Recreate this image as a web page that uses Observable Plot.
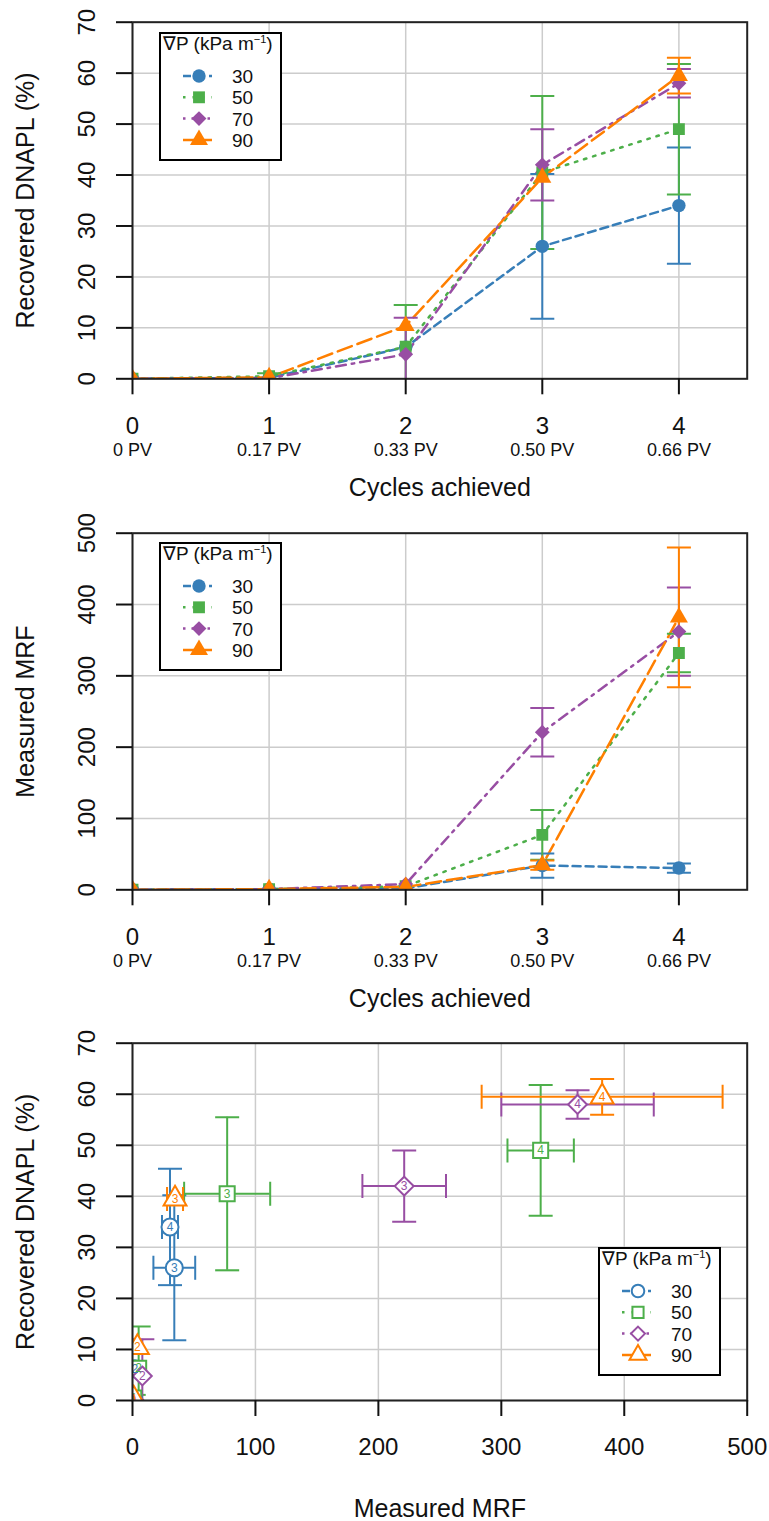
<!DOCTYPE html>
<html><head><meta charset="utf-8">
<script src="https://cdn.jsdelivr.net/npm/d3@7"></script>
<script src="https://cdn.jsdelivr.net/npm/@observablehq/plot@0.6"></script>
<style>
body{margin:0;background:#fff;}
#chart{width:769px;position:relative;font-family:"Liberation Sans",Arial,Helvetica,sans-serif;}
.panel{position:relative;width:769px;}
.panel svg{display:block;}
</style></head><body><div id="chart"></div>
<script>
// ---- data ----
const cycles = [0, 1, 2, 3, 4];
const pvLabels = ["0 PV", "0.17 PV", "0.33 PV", "0.50 PV", "0.66 PV"];
const gradients = [30, 50, 70, 90];
const colors = ["#377EB8", "#4DAF4A", "#984EA3", "#FF7F00"];

// Recovered DNAPL (%) per cycle, mean and error
const dnapl30 = [0, 0.2, 6.2, 26, 34];
const dnapl30Err = [0, 0, 0, 14.2, 11.4];
const dnapl50 = [0, 0.5, 6.3, 40.5, 49];
const dnapl50Err = [0, 0.6, 8.2, 15, 12.8];
const dnapl70 = [0, 0.1, 4.8, 42, 58];
const dnapl70Err = [0, 0, 7.2, 7, 2.8];
const dnapl90 = [0, 0.3, 10.4, 39.5, 59.5];
const dnapl90Err = [0, 0, 0, 0, 3.5];

// Measured MRF per cycle, mean and error
const mrf30 = [0, 1, 2, 34, 30.5];
const mrf30Err = [0, 0, 0, 17, 6.5];
const mrf50 = [0, 1, 5, 77, 332];
const mrf50Err = [0, 0, 0, 35, 27];
const mrf70 = [0, 1, 8, 221, 362];
const mrf70Err = [0, 0, 0, 34, 62];
const mrf90 = [0, 1, 4, 34.6, 382];
const mrf90Err = [0, 0, 0, 6.5, 98];

const dnaplTicks = [0, 10, 20, 30, 40, 50, 60, 70];
const mrfTicks = [0, 100, 200, 300, 400, 500];

// ---- build table ----
const dashes = ["8,5", "2.5,7", "2.5,6,10,6", "15,6"];
const symbols = ["circle", "square", "diamond2", "triangle"];
const seriesDefs = [
  {g: gradients[0], color: colors[0], dash: dashes[0], symbol: symbols[0], dnapl: dnapl30, dnaplErr: dnapl30Err, mrf: mrf30, mrfErr: mrf30Err},
  {g: gradients[1], color: colors[1], dash: dashes[1], symbol: symbols[1], dnapl: dnapl50, dnaplErr: dnapl50Err, mrf: mrf50, mrfErr: mrf50Err},
  {g: gradients[2], color: colors[2], dash: dashes[2], symbol: symbols[2], dnapl: dnapl70, dnaplErr: dnapl70Err, mrf: mrf70, mrfErr: mrf70Err},
  {g: gradients[3], color: colors[3], dash: dashes[3], symbol: symbols[3], dnapl: dnapl90, dnaplErr: dnapl90Err, mrf: mrf90, mrfErr: mrf90Err}
];
const rows = seriesDefs.flatMap(s => cycles.map((c, i) => ({
  g: s.g, cycle: c,
  dnapl: s.dnapl[i], dnaplErr: s.dnaplErr[i], dnaplLo: s.dnapl[i] - s.dnaplErr[i], dnaplHi: s.dnapl[i] + s.dnaplErr[i],
  mrf: s.mrf[i], mrfErr: s.mrfErr[i], mrfLo: s.mrf[i] - s.mrfErr[i], mrfHi: s.mrf[i] + s.mrfErr[i]
})));
const of = g => rows.filter(r => r.g === g);

const hcap = {draw(ctx) { ctx.moveTo(-12, 0); ctx.lineTo(12, 0); }};
const vcap = {draw(ctx) { ctx.moveTo(0, -12); ctx.lineTo(0, 12); }};
const FONT = '"Liberation Sans", Arial, Helvetica, sans-serif';
const grid = {stroke: "#cccccc", strokeOpacity: 1, strokeWidth: 1.5};

function axesMarks(xTicks, yTicks, xLabelsDy, xLabel, xLabelDy, yLabel, withPV) {
  const m = [
    Plot.frame({stroke: "#222", strokeWidth: 2}),
    Plot.axisX({ticks: xTicks, tickSize: 16, tickFormat: () => "", stroke: "#111", strokeWidth: 2, label: null}),
    Plot.axisY({ticks: yTicks, tickSize: 16, tickFormat: () => "", stroke: "#111", strokeWidth: 2, label: null}),
    Plot.text(xTicks, {x: d => d, text: d => String(d), frameAnchor: "bottom", dy: xLabelsDy, fontSize: 24, lineAnchor: "middle", fill: "#111"}),
    Plot.text(yTicks, {y: d => d, text: d => String(d), frameAnchor: "left", dx: -45, rotate: -90, fontSize: 24, textAnchor: "middle", lineAnchor: "middle", fill: "#111"}),
    Plot.text([xLabel], {text: d => d, frameAnchor: "bottom", dy: xLabelDy, fontSize: 25, lineAnchor: "middle", fill: "#111"}),
    Plot.text([yLabel], {text: d => d, frameAnchor: "left", dx: -107, rotate: -90, fontSize: 25, textAnchor: "middle", lineAnchor: "middle", fill: "#111"})
  ];
  if (withPV) m.push(Plot.text(cycles, {x: d => d, text: (d, i) => pvLabels[i], frameAnchor: "bottom", dy: xLabelsDy + 23, fontSize: 18, lineAnchor: "middle", fill: "#111"}));
  return m;
}

function cyclePanel(key, yDomain, yTicks, yLabel, mt, mb, h) {
  const marks = [Plot.gridX({ticks: cycles, ...grid}), Plot.gridY({ticks: yTicks, ...grid})];
  for (const s of seriesDefs)
    marks.push(Plot.line(of(s.g), {x: "cycle", y: key, stroke: s.color, strokeWidth: 2.5, strokeDasharray: s.dash, clip: true}));
  for (const s of seriesDefs) {
    const d = of(s.g).filter(r => r[key + "Err"] > 0);
    marks.push(Plot.ruleX(d, {x: "cycle", y1: key + "Lo", y2: key + "Hi", stroke: s.color, strokeWidth: 2, clip: true}));
    marks.push(Plot.dot(d, {x: "cycle", y: key + "Lo", symbol: hcap, stroke: s.color, fill: "none", strokeWidth: 2, clip: true}));
    marks.push(Plot.dot(d, {x: "cycle", y: key + "Hi", symbol: hcap, stroke: s.color, fill: "none", strokeWidth: 2, clip: true}));
  }
  for (const s of seriesDefs)
    marks.push(Plot.dot(of(s.g), {x: "cycle", y: key, symbol: s.symbol, fill: s.color, stroke: "none", r: 6.7, clip: true}));
  marks.push(...axesMarks(cycles, yTicks, 48, "Cycles achieved", 109, yLabel, true));
  return Plot.plot({
    width: 769, height: h, marginTop: mt, marginBottom: mb, marginLeft: 132, marginRight: 22.3,
    x: {domain: [0, 4.5]}, y: {domain: yDomain},
    style: {fontFamily: FONT, background: "white", overflow: "visible"},
    marks
  });
}

function scatterPanel() {
  const marks = [Plot.gridX({ticks: mrfTicks, ...grid}), Plot.gridY({ticks: dnaplTicks, ...grid})];
  for (const s of seriesDefs) {
    const dy = of(s.g).filter(r => r.dnaplErr > 0);
    const dx = of(s.g).filter(r => r.mrfErr > 0);
    marks.push(Plot.ruleX(dy, {x: "mrf", y1: "dnaplLo", y2: "dnaplHi", stroke: s.color, strokeWidth: 2, clip: true}));
    marks.push(Plot.dot(dy, {x: "mrf", y: "dnaplLo", symbol: hcap, stroke: s.color, fill: "none", strokeWidth: 2, clip: true}));
    marks.push(Plot.dot(dy, {x: "mrf", y: "dnaplHi", symbol: hcap, stroke: s.color, fill: "none", strokeWidth: 2, clip: true}));
    marks.push(Plot.ruleY(dx, {y: "dnapl", x1: "mrfLo", x2: "mrfHi", stroke: s.color, strokeWidth: 2, clip: true}));
    marks.push(Plot.dot(dx, {y: "dnapl", x: "mrfLo", symbol: vcap, stroke: s.color, fill: "none", strokeWidth: 2, clip: true}));
    marks.push(Plot.dot(dx, {y: "dnapl", x: "mrfHi", symbol: vcap, stroke: s.color, fill: "none", strokeWidth: 2, clip: true}));
  }
  for (const s of seriesDefs)
    marks.push(Plot.dot(of(s.g), {x: "mrf", y: "dnapl", symbol: s.symbol, fill: "white", stroke: s.color, strokeWidth: 2, r: 8.5, clip: true}));
  for (const s of seriesDefs)
    marks.push(Plot.text(of(s.g), {x: "mrf", y: "dnapl", text: d => String(d.cycle), fill: s.color, fontSize: 12, clip: true}));
  marks.push(...axesMarks(mrfTicks, dnaplTicks, 47, "Measured MRF", 108, "Recovered DNAPL (%)", false));
  return Plot.plot({
    width: 769, height: 501, marginTop: 22.7, marginBottom: 121, marginLeft: 132, marginRight: 22.3,
    x: {domain: [0, 500]}, y: {domain: [0, 70]},
    style: {fontFamily: FONT, background: "white", overflow: "visible"},
    marks
  });
}

const symTypes = {circle: d3.symbolCircle, square: d3.symbolSquare, diamond2: d3.symbolDiamond2, triangle: d3.symbolTriangle};
function legend(open, left, top) {
  const svg = d3.create("svg").attr("width", 123).attr("height", 129)
    .style("position", "absolute").style("left", left + "px").style("top", top + "px")
    .style("font-family", FONT);
  svg.append("rect").attr("x", 1).attr("y", 1).attr("width", 121).attr("height", 127)
    .attr("fill", "white").attr("stroke", "black").attr("stroke-width", 2);
  const t = svg.append("text").attr("x", 4).attr("y", 18).attr("font-size", 19).attr("fill", "#111");
  t.append("tspan").text("∇P (kPa m");
  t.append("tspan").attr("dy", -7).attr("font-size", 11).text("−1");
  t.append("tspan").attr("dy", 7).text(")");
  seriesDefs.forEach((s, i) => {
    const y = 44 + i * 21.3;
    svg.append("line").attr("x1", 24).attr("x2", 53).attr("y1", y).attr("y2", y)
      .attr("stroke", s.color).attr("stroke-width", 2.5).attr("stroke-dasharray", s.dash);
    const r = open ? 6.3 : 6.7;
    svg.append("path").attr("transform", `translate(40,${y})`)
      .attr("d", d3.symbol(symTypes[s.symbol], Math.PI * r * r)())
      .attr("fill", open ? "white" : s.color).attr("stroke", open ? s.color : "none").attr("stroke-width", 2);
    svg.append("text").attr("x", 73).attr("y", y + 7).attr("font-size", 19).attr("fill", "#111").text(String(s.g));
  });
  return svg.node();
}

const chart = document.getElementById("chart");
function addPanel(plotEl, leg) {
  const div = document.createElement("div");
  div.className = "panel";
  div.appendChild(plotEl);
  div.appendChild(leg);
  chart.appendChild(div);
}
addPanel(cyclePanel("dnapl", [0, 70], dnaplTicks, "Recovered DNAPL (%)", 21.7, 131.7, 510), legend(false, 159, 32));
addPanel(cyclePanel("mrf", [0, 500], mrfTicks, "Measured MRF", 22.7, 130.7, 510), legend(false, 159, 32));
addPanel(scatterPanel(), legend(true, 598, 227));
</script></body></html>
